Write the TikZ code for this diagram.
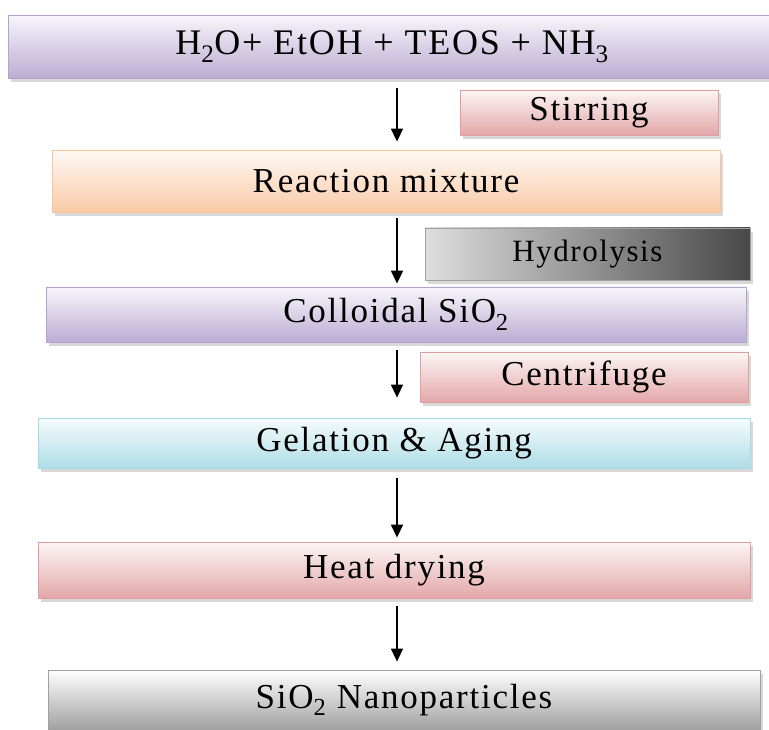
\documentclass[tikz,border=0pt]{standalone}
\usepackage{fontspec}
\setmainfont[LetterSpace=5]{Liberation Serif}
\usepackage{tikz}
\usetikzlibrary{arrows.meta,positioning,shadows}
\definecolor{lilac}{HTML}{B4A3CE}
\definecolor{peach}{HTML}{F8C49C}
\definecolor{rose}{HTML}{E09E9F}
\definecolor{aqua}{HTML}{A6D9E4}
\definecolor{slate}{HTML}{A0A0A0}
\tikzset{
  box/.style={rectangle, draw=#1, line width=0.8pt, top color=#1!10!white, bottom color=#1!90!white,
              align=center, inner sep=0pt, font=\fontsize{35}{40}\selectfont,
              drop shadow={shadow xshift=3pt, shadow yshift=-4pt, fill=black!30}},
  grey/.style={box=slate, top color=white, bottom color=slate},
  hydro/.style={box=slate, left color=slate!35!white, right color=slate!45!black,
                font=\fontsize{31}{36}\selectfont},
  fl/.style={-{Triangle[length=13pt,width=12pt]}, line width=1.6pt, draw=black},
}
\begin{document}
\begin{tikzpicture}[x=1pt,y=1pt]
  \useasboundingbox (0,0) rectangle (769,730);
  \node[box=lilac, minimum width=768, minimum height=63, font=\fontsize{36}{40}\selectfont] (mix) at (392,683.5) {H\textsubscript{2}O+ EtOH + TEOS + NH\textsubscript{3}};
  \node[box=rose, minimum width=258, minimum height=45] (stir) at (589,617.5) {Stirring};
  \node[box=peach, minimum width=668, minimum height=62] (react) at (386,549) {Reaction mixture};
  \node[hydro, minimum width=325, minimum height=52] (hyd) at (587.5,476) {Hydrolysis};
  \node[box=lilac, minimum width=700, minimum height=55] (coll) at (396,415.5) {Colloidal SiO\textsubscript{2}};
  \node[box=rose, minimum width=328, minimum height=50] (cent) at (584,353) {Centrifuge};
  \node[box=aqua, minimum width=712, minimum height=50] (gel) at (394,287) {Gelation \& Aging};
  \node[box=rose, minimum width=712, minimum height=56] (heat) at (394,160) {Heat drying};
  \node[grey, minimum width=712, minimum height=60] (nano) at (404,30) {SiO\textsubscript{2} Nanoparticles};
  \coordinate (ax) at (397,0);

  \draw[fl, shorten <=10pt, shorten >=8pt] (mix.south -| ax) -- (react.north -| ax);
  \draw[fl, shorten <=6pt, shorten >=3pt] (react.south -| ax) -- (coll.north -| ax);
  \draw[fl, shorten <=8pt, shorten >=20pt] (coll.south -| ax) -- (gel.north -| ax);
  \draw[fl, shorten <=10pt, shorten >=4pt] (gel.south -| ax) -- (heat.north -| ax);
  \draw[fl, shorten <=8pt, shorten >=8pt] (heat.south -| ax) -- (nano.north -| ax);
\end{tikzpicture}
\end{document}
